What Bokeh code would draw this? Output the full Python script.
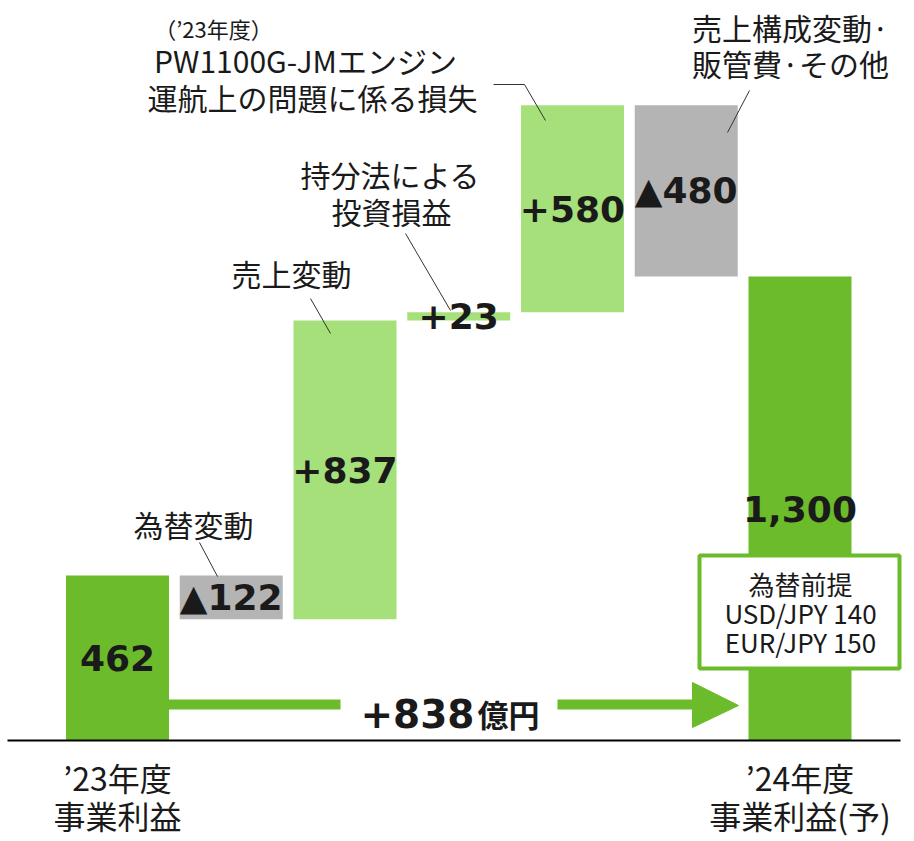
from bokeh.plotting import figure
from bokeh.models import Range1d
from bokeh.core.properties import value
from bokeh.embed import file_html
from bokeh.resources import INLINE

# ---- data ----
categories = ["’23年度 事業利益", "為替変動", "売上変動", "持分法による投資損益",
              "PW1100G-JMエンジン運航上の問題に係る損失", "売上構成変動·販管費·その他",
              "’24年度 事業利益(予)"]
values = [462, -122, 837, 23, 580, -480, 1300]
is_total = [True, False, False, False, False, False, True]
value_labels = ["462", "▲122", "+837", "+23", "+580", "▲480", "1,300"]
total_change_label = "+838"
unit_label = "億円"
start_axis_labels = ["’23年度", "事業利益"]
end_axis_labels = ["’24年度", "事業利益(予)"]
fx_labels = ["為替前提", "USD/JPY 140", "EUR/JPY 150"]

# ---- styles ----
DARK_GREEN = "#6bbb2b"
LIGHT_GREEN = "#a6e07a"
GRAY = "#b4b4b4"
TEXT = "#1a1a1a"
JP = value("Noto Sans CJK JP")
NUM = value("DejaVu Sans")

W, H = 906, 841
OFF = 0
PX_PER_X = 113.75
PX_PER_Y = 464 / 1300
X_START = -(117 - OFF) / PX_PER_X
Y_END = (740 - OFF) / PX_PER_Y
BW = 103 / PX_PER_X


def dx(px):
    return X_START + (px - OFF) / PX_PER_X


def dy(py):
    return Y_END - (py - OFF) / PX_PER_Y


# ---- waterfall geometry from data ----
xs = list(range(len(values)))
bottoms, tops, colors = [], [], []
running = 0
for v, tot in zip(values, is_total):
    if tot:
        b, t = 0, v
        running = v
        colors.append(DARK_GREEN)
    else:
        b, t = min(running, running + v), max(running, running + v)
        running += v
        colors.append(LIGHT_GREEN if v > 0 else GRAY)
    bottoms.append(b)
    tops.append(t)
mids = [(b + t) / 2 for b, t in zip(bottoms, tops)]

p = figure(width=W, height=H, x_range=Range1d(X_START, X_START + W / PX_PER_X),
           y_range=Range1d(Y_END - H / PX_PER_Y, Y_END), output_backend="svg",
           toolbar_location=None, min_border=0, x_axis_type=None, y_axis_type=None)
p.grid.visible = False
p.outline_line_color = None

p.vbar(x=xs, width=BW, bottom=bottoms, top=tops, fill_color=colors, line_color=None)

# baseline
p.segment(x0=[dx(7)], y0=[0], x1=[dx(900)], y1=[0], line_color="black", line_width=2)

# total change arrow
ay = dy(704)
p.segment(x0=[xs[0] + BW / 2, dx(557)], y0=[ay, ay], x1=[dx(340), dx(694)], y1=[ay, ay],
          line_color=DARK_GREEN, line_width=10)
p.patch(x=[dx(692), dx(692), dx(738)], y=[dy(682), dy(727), dy(705)],
        fill_color=DARK_GREEN, line_color=DARK_GREEN)
p.text(x=[dx(474)], y=[dy(713)], text=[total_change_label], text_font=NUM,
       text_font_style="bold", text_font_size="39px", text_align="right",
       text_baseline="alphabetic", text_color=TEXT)
p.text(x=[dx(477)], y=[dy(713)], text=[unit_label], text_font=JP,
       text_font_style="bold", text_font_size="31px", text_align="left",
       text_baseline="alphabetic", text_color=TEXT)

# fx assumption box
p.quad(left=[dx(699)], right=[dx(899)], top=[dy(555)], bottom=[dy(668)],
       fill_color="white", line_color=DARK_GREEN, line_width=4)
p.text(x=[dx(800)] * 3, y=[dy(583), dy(612), dy(641)], text=fx_labels, text_font=JP,
       text_font_size="26px", text_align="center", text_baseline="middle",
       text_color=TEXT)

# bar value labels
p.text(x=xs, y=mids, text=value_labels, text_font=NUM, text_font_style="bold",
       text_font_size="36px", text_align="center", text_baseline="middle",
       text_color=TEXT)

# category labels under axis
for i, lines in ((xs[0], start_axis_labels), (xs[-1], end_axis_labels)):
    p.text(x=[i, i], y=[dy(776), dy(814)], text=lines, text_font=JP,
           text_font_size="32px", text_align="center", text_baseline="middle",
           text_color=TEXT)

# annotations
ann = [
    ("為替変動", 193, 523, 30),
    ("売上変動", 291, 272, 30),
    ("持分法による", 390, 173, 30),
    ("投資損益", 391, 210, 30),
    ("（’23年度）", 213, 27, 22),
    ("PW1100G-JMエンジン", 305, 59, 30),
    ("運航上の問題に係る損失", 312, 96, 30),
    ("売上構成変動·", 790, 26, 30),
    ("販管費·その他", 790, 62, 30),
]
for t, x, y, s in ann:
    p.text(x=[dx(x)], y=[dy(y)], text=[t], text_font=JP, text_font_size=f"{s}px",
           text_align="center", text_baseline="middle", text_color=TEXT)

leaders = [
    [(199, 542), (217, 576)],
    [(310, 298), (330, 333)],
    [(405, 233), (450, 310)],
    [(493, 84), (524, 84), (545, 120)],
    [(749, 90), (727, 132)],
]
p.multi_line(xs=[[dx(a) for a, _ in L] for L in leaders],
             ys=[[dy(b) for _, b in L] for L in leaders],
             line_color="#333333", line_width=1)

open("out.html", "w").write(file_html(p, INLINE))
